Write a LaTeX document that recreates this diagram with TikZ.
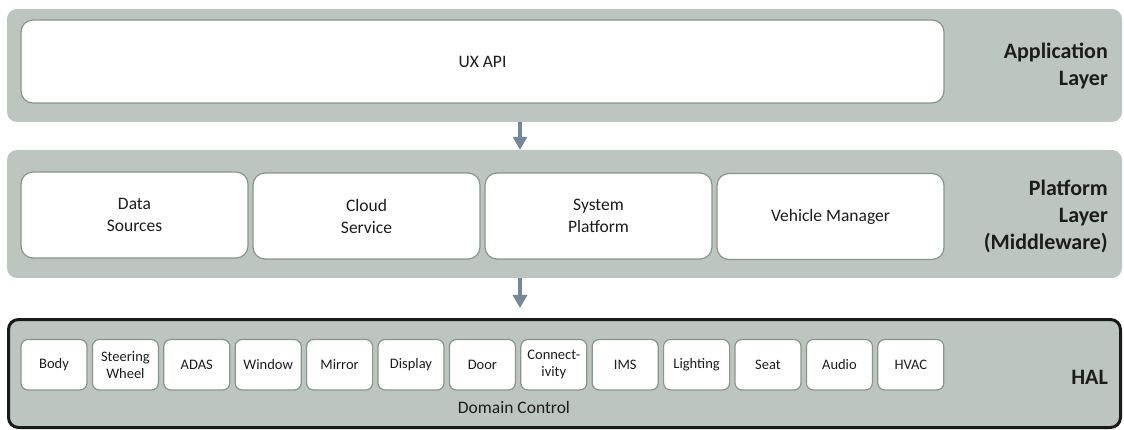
\documentclass[tikz,border=0pt]{standalone}
\usepackage{fontspec}
\setmainfont{Carlito}
\usetikzlibrary{arrows.meta}
\definecolor{layergray}{RGB}{188,197,191}
\definecolor{boxedge}{RGB}{134,150,139}
\definecolor{arrowcol}{RGB}{116,136,153}
\definecolor{txt}{RGB}{28,28,28}
\definecolor{haledge}{RGB}{26,26,26}
\tikzset{
  layer/.style={fill=layergray, draw=none, rounded corners=10pt, inner sep=0pt},
  halbox/.style={fill=layergray, draw=haledge, line width=3pt, rounded corners=10pt, inner sep=0pt},
  bigbox/.style={fill=white, draw=boxedge, line width=1.2pt, rounded corners=12pt, inner sep=0pt,
    align=center, text=txt, font=\fontsize{17.5}{22}\selectfont},
  smallbox/.style={fill=white, draw=boxedge, line width=1.2pt, rounded corners=7pt, inner sep=0pt,
    align=center, text=txt, font=\fontsize{14.5}{17}\selectfont,
    minimum width=66pt, minimum height=50.5pt},
  laylabel/.style={align=right, anchor=east, text=txt, inner sep=0pt,
    font=\fontsize{22}{27}\selectfont\bfseries},
  flowarrow/.style={draw=arrowcol, line width=4.5pt, -{Triangle[width=14pt,length=13pt]}}
}
\begin{document}
\begin{tikzpicture}[x=1pt,y=-1pt]
\useasboundingbox (0,0) rectangle (1124,430);
% layers
\node[layer, minimum width=1115pt, minimum height=113pt] (applayer) at (564.5,65.5) {};
\node[layer, minimum width=1115pt, minimum height=128pt] (platlayer) at (564.5,214) {};
\node[halbox, minimum width=1112pt, minimum height=108pt] (hallayer) at (564.5,373.5) {};
% application layer
\node[bigbox, minimum width=923pt, minimum height=83pt] (uxapi) at (482.5,61.5) {UX API};
\node[laylabel] (applabel) at (1108,66) {Application\\Layer};
% platform layer
\node[bigbox, minimum width=227pt, minimum height=86pt] (ds) at (134.5,215) {Data\\Sources};
\node[bigbox, minimum width=227pt, minimum height=86pt] (cs) at (366.5,216) {Cloud\\Service};
\node[bigbox, minimum width=227pt, minimum height=86pt] (sp) at (598.5,216) {System\\Platform};
\node[bigbox, minimum width=227pt, minimum height=86pt] (vm) at (830.5,216.5) {Vehicle Manager};
\node[laylabel] (platlabel) at (1108,216) {Platform\\Layer\\(Middleware)};
% HAL
\foreach \i/\nm/\t in {0/body/Body,1/steer/Steering\\Wheel,2/adas/ADAS,3/window/Window,4/mirror/Mirror,
  5/display/Display,6/door/Door,7/conn/Connect-\\ivity,8/ims/IMS,9/light/Lighting,10/seat/Seat,
  11/audio/Audio,12/hvac/HVAC}{
  \node[smallbox] (\nm) at ({54+71.4*\i},364.75) {\t};
}
\node[text=txt, inner sep=0pt, font=\fontsize{17.5}{20}\selectfont] (dc) at (514,407) {Domain Control};
\node[laylabel] (hallabel) at (1108,377) {HAL};
% arrows
\coordinate (ax) at (520,0);
\draw[flowarrow] (applayer.south -| ax) -- (platlayer.north -| ax);
\draw[flowarrow, shorten >=10pt] (platlayer.south -| ax) -- (hallayer.north -| ax);
\end{tikzpicture}
\end{document}
